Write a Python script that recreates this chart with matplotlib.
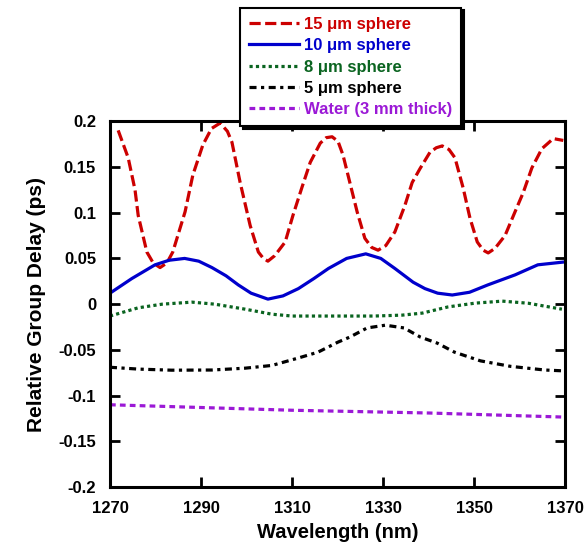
import matplotlib
matplotlib.use("Agg")
import matplotlib.pyplot as plt
from matplotlib.ticker import FuncFormatter

plt.rcParams['font.family'] = ['Liberation Sans', 'DejaVu Sans']
plt.rcParams['font.weight'] = 'bold'
plt.rcParams['axes.unicode_minus'] = False

# 15 um sphere
wl_15 = [1271.8, 1274.0, 1275.5, 1276.2, 1278.1, 1279.5, 1281.0, 1282.5, 1283.8,
         1286.5, 1288.2, 1290.4, 1292.3, 1294.2, 1295.8, 1296.8, 1298.6, 1300.8,
         1302.6, 1303.7, 1304.7, 1306.2, 1308.5, 1310.2, 1312.2, 1314.0, 1316.2,
         1317.5, 1318.8, 1320.1, 1321.2, 1322.7, 1324.3, 1326.0, 1327.5, 1328.9,
         1330.6, 1332.6, 1334.8, 1336.4, 1338.1, 1340.3, 1341.7, 1343.0, 1344.5,
         1345.8, 1347.6, 1349.1, 1350.7, 1352.0, 1353.1, 1354.6, 1356.8, 1359.0,
         1360.8, 1362.7, 1364.9, 1367.4, 1369.6]
gd_15 = [0.190, 0.160, 0.125, 0.097, 0.057, 0.045, 0.040, 0.045, 0.057,
         0.101, 0.141, 0.174, 0.192, 0.198, 0.189, 0.177, 0.133, 0.086,
         0.057, 0.050, 0.047, 0.053, 0.068, 0.097, 0.128, 0.155, 0.176,
         0.182, 0.183, 0.178, 0.163, 0.133, 0.101, 0.072, 0.062, 0.059,
         0.064, 0.079, 0.108, 0.133, 0.148, 0.166, 0.171, 0.173, 0.169,
         0.160, 0.127, 0.094, 0.068, 0.059, 0.056, 0.061, 0.075, 0.101,
         0.122, 0.149, 0.170, 0.181, 0.179]

# 10 um sphere
wl_10 = [1270.0, 1274.8, 1279.9, 1283.0, 1286.4, 1289.5, 1292.4, 1295.5, 1298.2,
         1301.0, 1304.7, 1308.0, 1311.4, 1314.8, 1318.0, 1322.0, 1326.2, 1329.5,
         1332.6, 1336.6, 1339.2, 1342.0, 1345.2, 1349.0, 1353.0, 1359.0, 1364.0,
         1369.6]
gd_10 = [0.012, 0.028, 0.043, 0.048, 0.050, 0.047, 0.040, 0.031, 0.021,
         0.012, 0.0055, 0.009, 0.017, 0.028, 0.039, 0.050, 0.055, 0.050,
         0.039, 0.024, 0.017, 0.012, 0.010, 0.013, 0.021, 0.032, 0.043,
         0.046]

# 8 um sphere
wl_8 = [1270.0, 1276.2, 1281.5, 1288.0, 1293.0, 1299.7, 1305.6, 1310.0, 1321.6,
        1328.0, 1334.2, 1338.6, 1344.3, 1350.2, 1356.2, 1361.9, 1369.3]
gd_8 = [-0.013, -0.004, 0.000, 0.0022, 0.000, -0.0055, -0.011, -0.013, -0.013,
        -0.013, -0.012, -0.0098, -0.003, 0.0011, 0.0033, 0.001, -0.0055]

# 5 um sphere
wl_5 = [1270.0, 1276.2, 1283.6, 1292.4, 1299.7, 1305.6, 1311.3, 1315.7, 1320.1,
        1322.7, 1326.5, 1330.5, 1334.6, 1338.2, 1341.9, 1345.7, 1351.4, 1358.0,
        1365.5, 1369.9]
gd_5 = [-0.069, -0.071, -0.0722, -0.072, -0.070, -0.067, -0.059, -0.0525, -0.0415,
        -0.036, -0.026, -0.023, -0.026, -0.036, -0.0426, -0.0525, -0.062, -0.068,
        -0.072, -0.073]

# water, 3 mm thick
wl_w = [1270, 1280, 1290, 1300, 1310, 1320, 1330, 1340, 1350, 1360, 1370]
gd_w = [-0.110, -0.1115, -0.113, -0.1145, -0.116, -0.117, -0.118, -0.119,
        -0.1205, -0.122, -0.1235]

labels = ['15 \u03bcm sphere', '10 \u03bcm sphere', '8 \u03bcm sphere',
          '5 \u03bcm sphere', 'Water (3 mm thick)']
colors = ['#CC0000', '#0000CC', '#0A6420', '#000000', '#9B19D6']
styles = [(0, (3.5, 1.4)), '-', (0, (1, 1)), (0, (2.2, 1.4, 1, 1.4)), (0, (1.8, 1.3))]

fig = plt.figure(figsize=(5.85, 5.51), dpi=100)
ax = fig.add_axes([0.188, 0.116, 0.778, 0.664])

series = [(wl_15, gd_15), (wl_10, gd_10), (wl_8, gd_8), (wl_5, gd_5), (wl_w, gd_w)]
for (x, y), lab, c, ls in zip(series, labels, colors, styles):
    ax.plot(x, y, color=c, linestyle=ls, linewidth=2.3, label=lab)

ax.set_xlim(1270, 1370)
ax.set_ylim(-0.2, 0.2)
ax.set_xticks([1270, 1290, 1310, 1330, 1350, 1370])
ax.set_yticks([-0.2, -0.15, -0.1, -0.05, 0, 0.05, 0.1, 0.15, 0.2])
ax.yaxis.set_major_formatter(FuncFormatter(lambda v, p: '%g' % round(v, 3)))
ax.tick_params(direction='in', length=7, width=2, top=True, right=True,
               labelsize=12, pad=10)
for s in ax.spines.values():
    s.set_linewidth(2.2)

ax.set_xlabel('Wavelength (nm)', fontsize=14.5, fontweight='bold', labelpad=5)
ax.set_ylabel('Relative Group Delay (ps)', fontsize=15, fontweight='bold', labelpad=9)

leg = ax.legend(loc='upper left', bbox_to_anchor=(0.41, 0.986),
                bbox_transform=fig.transFigure, fontsize=12, frameon=True,
                fancybox=False, shadow={'color': 'black', 'alpha': 1},
                handlelength=3.0, handletextpad=0.3, labelspacing=0.38,
                borderpad=0.55, borderaxespad=0)
leg.get_frame().set_edgecolor('black')
leg.get_frame().set_linewidth(1.5)
for t, c in zip(leg.get_texts(), colors):
    t.set_color(c)
    t.set_fontweight('bold')

fig.savefig('out.png', dpi=100)
